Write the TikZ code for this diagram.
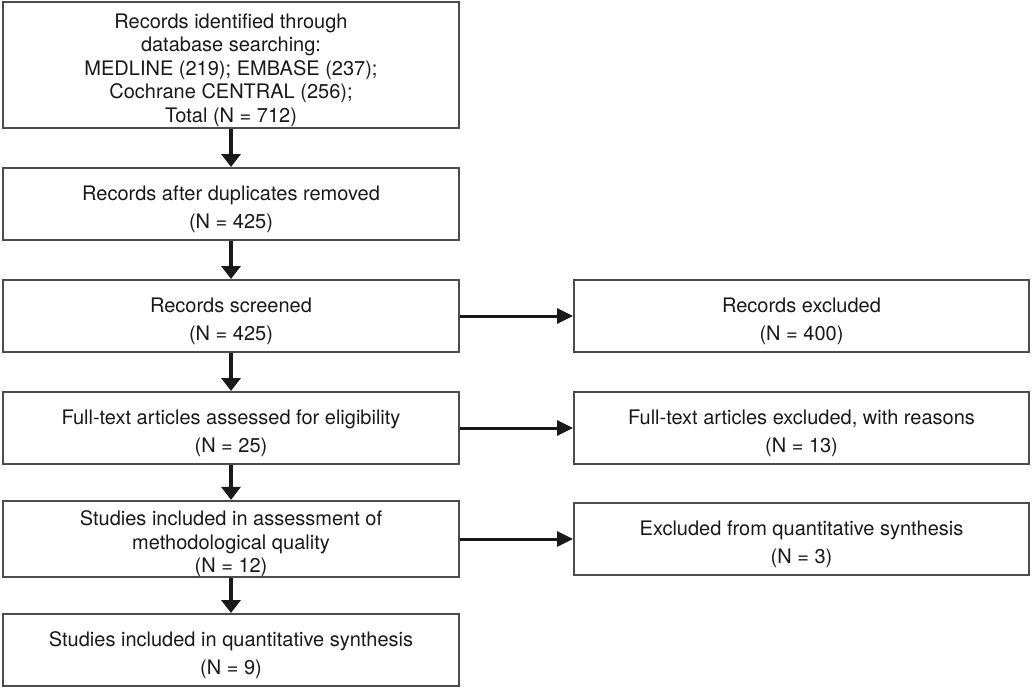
\documentclass[tikz,border=0pt]{standalone}
\usepackage{fontspec}
\setmainfont{TeX Gyre Heros}
\usetikzlibrary{arrows.meta}

\newcommand{\tstrut}{\rule{0pt}{25pt}}

\begin{document}
\begin{tikzpicture}[x=1pt, y=-1pt,
    box/.style={draw=black!70, line width=2pt, rectangle, minimum width=456pt, minimum height=72pt,
        align=center, inner sep=0pt, text=black!90, font=\fontsize{20}{23.5}\selectfont},
    down/.style={-{Triangle[width=19pt,length=13pt]}, line width=3.5pt, black!90},
    side/.style={-{Triangle[width=15pt,length=16pt]}, line width=3pt, black!90}]
    \useasboundingbox (0,0) rectangle (1033,688);

    % main column
    \node[box, minimum height=126pt] (B1) at (231,65) {\tstrut Records identified through\\database searching:\\MEDLINE (219); EMBASE (237);\\Cochrane CENTRAL (256);\\Total (N = 712)};
    \node[box] (B2) at (231,204) {\tstrut Records after duplicates removed\\[5pt](N = 425)};
    \node[box] (B3) at (231,316) {\tstrut Records screened\\[5pt](N = 425)};
    \node[box] (B4) at (231,428) {\tstrut Full-text articles assessed for eligibility\\[5pt](N = 25)};
    \node[box] (B5) at (231,539) {\tstrut Studies included in assessment of\\methodological quality\\(N = 12)};
    \node[box] (B6) at (231,650) {\tstrut Studies included in quantitative synthesis\\[5pt](N = 9)};

    % exclusions
    \node[box, minimum width=455pt] (R1) at (801.5,316) {\tstrut Records excluded\\[5pt](N = 400)};
    \node[box, minimum width=455pt] (R2) at (801.5,428) {\tstrut Full-text articles excluded, with reasons\\[5pt](N = 13)};
    \node[box, minimum width=455pt] (R3) at (801.5,539) {\tstrut Excluded from quantitative synthesis\\[5pt](N = 3)};

    \draw[down] (B1) -- (B2);
    \draw[down] (B2) -- (B3);
    \draw[down] (B3) -- (B4);
    \draw[down] (B4) -- (B5);
    \draw[down] (B5) -- (B6);

    \draw[side] (B3) -- (R1);
    \draw[side] (B4) -- (R2);
    \draw[side] (B5) -- (R3);

\end{tikzpicture}
\end{document}
